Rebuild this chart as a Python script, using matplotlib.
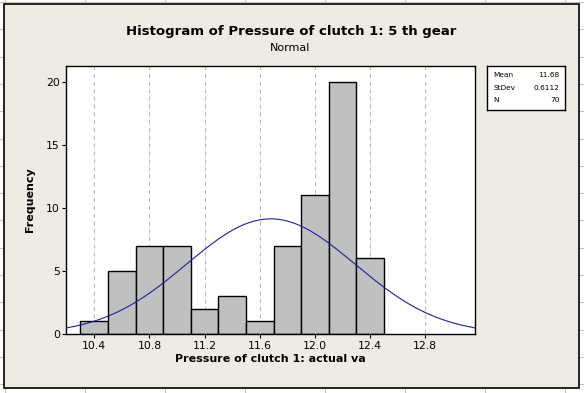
import matplotlib
import matplotlib.pyplot as plt
import numpy as np
from matplotlib.patches import Rectangle

matplotlib.use('Agg')

# histogram data
bin_centers = [10.4, 10.6, 10.8, 11.0, 11.2, 11.4, 11.6, 11.8, 12.0, 12.2, 12.4]
counts = [1, 5, 7, 7, 2, 3, 1, 7, 11, 20, 6]
bin_width = 0.2

# fitted normal stats shown in the box
mean = 11.68
stdev = 0.6112
n = 70

x_ticks = [10.4, 10.8, 11.2, 11.6, 12.0, 12.4, 12.8]
y_ticks = [0, 5, 10, 15, 20]

W, H = 584, 393
BG = '#EEEBE2'


def fx(px):
    return px / W


def fy(py):
    return 1 - py / H


fig = plt.figure(figsize=(W / 100, H / 100), dpi=100)
fig.patch.set_facecolor('white')

# spreadsheet cells peeking around the chart
bg = fig.add_axes([0, 0, 1, 1], zorder=0)
bg.set_xlim(0, W)
bg.set_ylim(H, 0)
bg.axis('off')
for cx in np.arange(5, W, 80):
    bg.plot([cx, cx], [0, H], color='#C4C2BC', lw=0.8)
for cy in np.arange(2, H, 27.3):
    bg.plot([0, W], [cy, cy], color='#C4C2BC', lw=0.8)
bg.add_patch(Rectangle((4, 4), 575, 384, facecolor=BG, edgecolor='black', lw=1.2, zorder=3))

ax = fig.add_axes([fx(66), fy(334), fx(475.3) - fx(66), fy(66) - fy(334)], zorder=2)
ax.set_facecolor('white')

ax.bar(bin_centers, counts, width=bin_width, color='#C0C0C0', edgecolor='black', linewidth=1.0, zorder=2)

xs = np.linspace(10.195, 13.163, 300)
pdf = n * bin_width / (stdev * np.sqrt(2 * np.pi)) * np.exp(-0.5 * ((xs - mean) / stdev) ** 2)
ax.plot(xs, pdf, color='#1F1FA0', lw=0.8, zorder=3)

ax.set_xlim(10.195, 13.163)
ax.set_ylim(0, 21.27)
ax.set_xticks(x_ticks)
ax.set_xticklabels([f"{t:.1f}" for t in x_ticks])
ax.set_yticks(y_ticks)
ax.xaxis.grid(True, linestyle=(0, (4, 3)), color='#BDBDBD', lw=0.8, zorder=0)
ax.set_axisbelow(True)
ax.tick_params(axis='both', direction='out', length=3, width=0.8, labelsize=7.8, colors='black')
ax.tick_params(axis='x', pad=2)
ax.tick_params(axis='y', pad=1.5)
for s in ax.spines.values():
    s.set_linewidth(1.0)

ax.set_xlabel("Pressure of clutch 1: actual va", fontsize=8, fontweight='bold', labelpad=2)
ax.set_ylabel("Frequency", fontsize=8, fontweight='bold', labelpad=8)

fig.text(fx(291), fy(31), "Histogram of Pressure of clutch 1: 5 th gear", ha='center', va='center',
         fontsize=9.5, fontweight='bold', zorder=5)
fig.text(fx(290), fy(48), "Normal", ha='center', va='center', fontsize=8, zorder=5)

# stats box
box = fig.add_axes([fx(487), fy(110), fx(565) - fx(487), fy(66) - fy(110)], zorder=2)
box.set_facecolor('white')
box.set_xticks([])
box.set_yticks([])
for s in box.spines.values():
    s.set_linewidth(1.0)
rows = [("Mean", f"{mean:.2f}"), ("StDev", f"{stdev:.4f}"), ("N", f"{n}")]
for i, (k, v) in enumerate(rows):
    yy = 0.79 - i * 0.28
    box.text(0.08, yy, k, ha='left', va='center', fontsize=5.3, transform=box.transAxes)
    box.text(0.93, yy, v, ha='right', va='center', fontsize=5.3, transform=box.transAxes)

plt.savefig('out.png', dpi=100)
plt.close()
